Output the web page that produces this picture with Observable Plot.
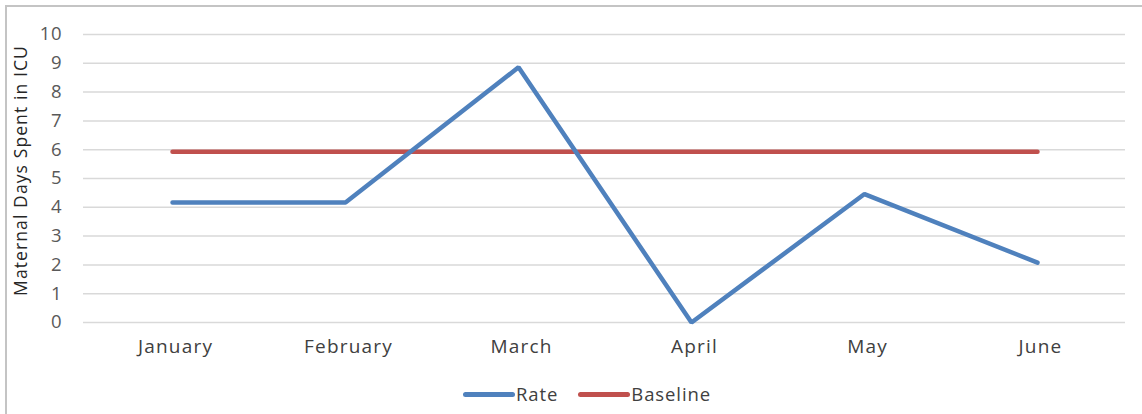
<!DOCTYPE html>
<html>
<head>
<meta charset="utf-8">
<script src="https://cdn.jsdelivr.net/npm/d3@7"></script>
<script src="https://cdn.jsdelivr.net/npm/@observablehq/plot@0.6"></script>
<style>
  html, body { margin: 0; padding: 0; background: #fff; }
  body { width: 1142px; height: 414px; position: relative; overflow: hidden; font-family: "Open Sans", Lato, sans-serif; }
  #frame { position: absolute; left: 5px; top: 5px; width: 1300px; height: 600px;
           border-left: 2px solid #c4c4c4; border-top: 2px solid #c4c4c4; }
  #chart { position: absolute; left: 0; top: 0; }
  #legend { position: absolute; left: 463px; top: 381px; display: flex; justify-content: flex-start;
            align-items: center; font-size: 18.5px; letter-spacing: 0.9px; line-height: 26px; color: #404040; }
  .item { display: flex; align-items: center; margin-right: 20px; }
  .swatch { width: 52px; height: 5px; border-radius: 3px; margin-right: 1px; }
</style>
</head>
<body>
<div id="frame"></div>
<div id="chart"></div>
<div id="legend"></div>
<script>
// Monthly maternal ICU days against the baseline
const months = ["January", "February", "March", "April", "May", "June"];
const rate = [4.17, 4.17, 8.86, 0, 4.46, 2.08];
const baseline = [5.93, 5.93, 5.93, 5.93, 5.93, 5.93];
const yTicks = [0, 1, 2, 3, 4, 5, 6, 7, 8, 9, 10];

const seriesNames = ["Rate", "Baseline"];
const seriesColors = ["#4F81BD", "#C0504D"];

const rows = months.map((m, i) => ({month: m, rate: rate[i], baseline: baseline[i]}));

const chart = Plot.plot({
  width: 1142,
  height: 370,
  marginLeft: 83,
  marginRight: 17,
  marginTop: 34,
  marginBottom: 48,
  style: {fontFamily: "'Open Sans', Lato, sans-serif", background: "transparent"},
  x: {type: "point", domain: months, padding: 0.5},
  y: {domain: [0, 10]},
  marks: [
    Plot.ruleY(yTicks, {stroke: "#d9d9d9", strokeWidth: 1.5}),
    Plot.axisY(yTicks, {
      tickSize: 0, tickPadding: 21, fontSize: 18.5, fill: "#595959",
      label: "Maternal Days Spent in ICU", labelAnchor: "center", labelArrow: "none",
      labelOffset: 69
    }),
    Plot.axisX({tickSize: 0, tickPadding: 17, fontSize: 19, fill: "#404040", label: null}),
    Plot.lineY(rows, {x: "month", y: "baseline", stroke: seriesColors[1], strokeWidth: 4.5, strokeLinecap: "round"}),
    Plot.lineY(rows, {x: "month", y: "rate", stroke: seriesColors[0], strokeWidth: 4.5,
      strokeLinecap: "round", strokeLinejoin: "miter", curve: "linear"})
  ]
});
// Wider letter spacing for the axis texts
chart.querySelectorAll("g[aria-label='x-axis tick label'] text").forEach(t => {
  t.style.letterSpacing = "1.2px";
  t.setAttribute("dx", "3");
});
chart.querySelectorAll("g[aria-label='y-axis tick label'] text").forEach(t => {
  t.style.letterSpacing = "0.8px";
});
// Axis title styling
chart.querySelectorAll("g[aria-label='y-axis label'] text").forEach(t => {
  t.setAttribute("font-size", "17.5");
  t.setAttribute("fill", "#262626");
  t.setAttribute("dx", "8");
  t.style.letterSpacing = "1.1px";
});
document.getElementById("chart").appendChild(chart);

const legend = document.getElementById("legend");
seriesNames.forEach((name, i) => {
  const item = document.createElement("div");
  item.className = "item";
  const sw = document.createElement("div");
  sw.className = "swatch";
  sw.style.background = seriesColors[i];
  const label = document.createElement("span");
  label.textContent = name;
  item.appendChild(sw);
  item.appendChild(label);
  legend.appendChild(item);
});
</script>
</body>
</html>
